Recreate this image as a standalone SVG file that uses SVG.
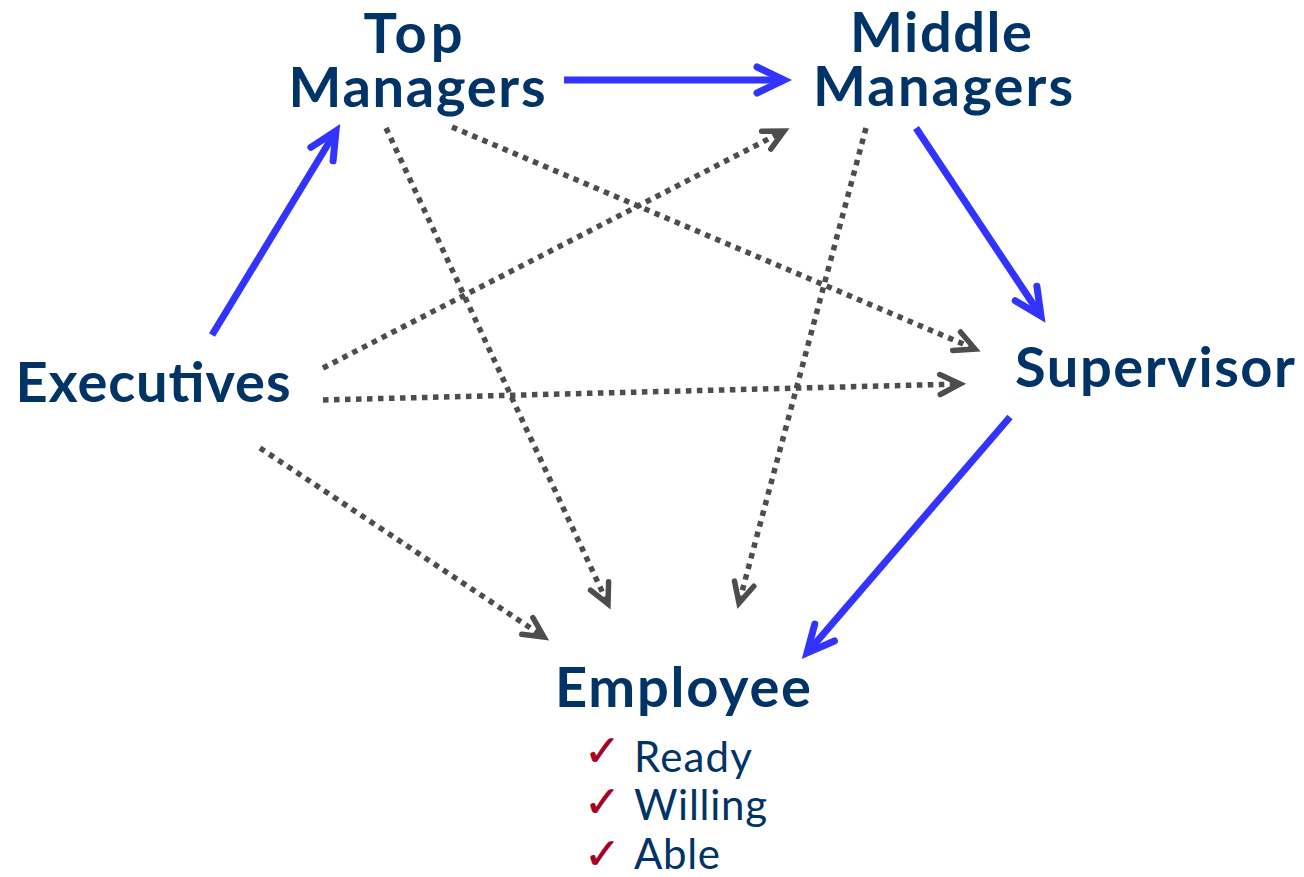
<svg xmlns="http://www.w3.org/2000/svg" width="1304" height="877" viewBox="0 0 1304 877">
<style>
.lbl{font-family:Lato,"Liberation Sans",sans-serif;font-weight:bold;font-size:56px;fill:#003366;text-anchor:middle}
.sub{font-family:Lato,"Liberation Sans",sans-serif;font-size:42px;fill:#003366}
.chk{font-family:"DejaVu Sans",sans-serif;font-size:44px;fill:#A50021;stroke:#A50021;stroke-width:0.5}
.solid{stroke:#3333FF;stroke-width:7;fill:none;marker-end:url(#ab)}
.dot{stroke:#4D4D4D;stroke-width:5.5;stroke-dasharray:5.5 5.5;fill:none;marker-end:url(#ag)}
</style>
<defs>
<marker id="ab" markerUnits="userSpaceOnUse" markerWidth="60" markerHeight="60" viewBox="-40 -30 50 60" refX="0" refY="0" orient="auto" overflow="visible">
<path d="M-27,-13 L0,0 L-27,13" fill="none" stroke="#3333FF" stroke-width="7" stroke-linecap="round" stroke-linejoin="miter"/>
</marker>
<marker id="ag" markerUnits="userSpaceOnUse" markerWidth="40" markerHeight="40" viewBox="-30 -20 40 40" refX="0" refY="0" orient="auto" overflow="visible">
<path d="M-20,-10 L0,0 L-20,10" fill="none" stroke="#4D4D4D" stroke-width="5.5" stroke-linecap="round" stroke-linejoin="miter"/>
</marker>
</defs>
<rect width="1304" height="877" fill="#FFFFFF"/>
<g id="connectors">
<line class="solid" x1="212" y1="335" x2="336" y2="131"/>
<line class="solid" x1="564" y1="80" x2="784" y2="80"/>
<line class="solid" x1="916" y1="128" x2="1041" y2="316"/>
<line class="solid" x1="1010" y1="417" x2="807" y2="653"/>
<line class="dot" x1="323" y1="368" x2="784" y2="131"/>
<line class="dot" x1="323" y1="400" x2="960" y2="384"/>
<line class="dot" x1="452" y1="127" x2="975" y2="349"/>
<line class="dot" x1="386" y1="128" x2="608" y2="604"/>
<line class="dot" x1="866" y1="128" x2="739" y2="603"/>
<line class="dot" x1="260" y1="448" x2="544" y2="637"/>
</g>
<g id="top-managers">
<text class="lbl" x="413" y="53" textLength="99">Top</text>
<text class="lbl" x="417" y="107" textLength="257">Managers</text>
</g>
<g id="middle-managers">
<text class="lbl" x="941" y="52" textLength="182">Middle</text>
<text class="lbl" x="943" y="106" textLength="260">Managers</text>
</g>
<g id="executives">
<text class="lbl" x="153" y="402" textLength="275">Executives</text>
</g>
<g id="supervisor">
<text class="lbl" x="1155" y="387" textLength="280">Supervisor</text>
</g>
<g id="employee">
<text class="lbl" x="683" y="707" textLength="256">Employee</text>
<text class="chk" x="584" y="766">✓</text>
<text class="sub" x="634" y="772" textLength="118">Ready</text>
<text class="chk" x="584" y="817">✓</text>
<text class="sub" x="634" y="820" textLength="133">Willing</text>
<text class="chk" x="584" y="869">✓</text>
<text class="sub" x="634" y="869" textLength="86">Able</text>
</g>
</svg>
